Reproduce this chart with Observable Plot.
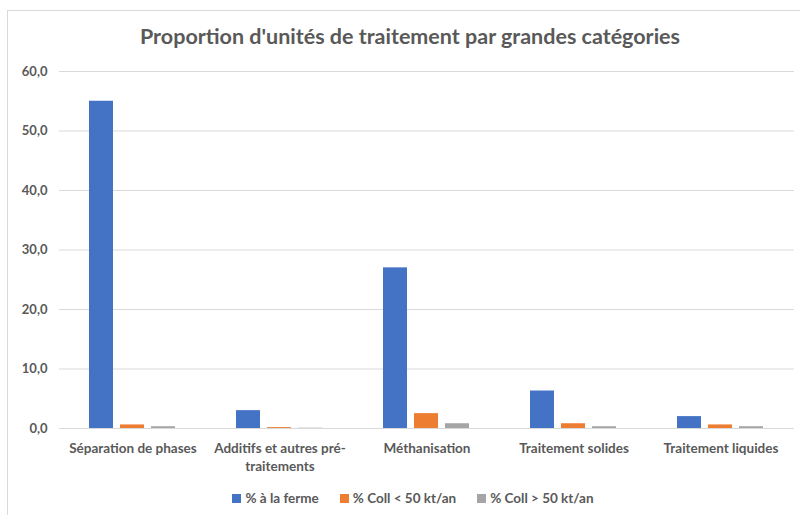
<!DOCTYPE html>
<html>
<head>
<meta charset="utf-8">
<script src="https://cdn.jsdelivr.net/npm/d3@7"></script>
<script src="https://cdn.jsdelivr.net/npm/@observablehq/plot@0.6"></script>
<style>
  body { margin:0; width:800px; height:515px; overflow:hidden; position:relative; background:#fff; font-family: Lato, "Open Sans", sans-serif; }
  #frame { position:absolute; left:7px; top:10px; width:820px; height:520px; border:1px solid #d9d9d9; box-sizing:border-box; }
  #title { position:absolute; left:0; top:23px; width:820px; text-align:center; font-size:21.5px; font-weight:700; color:#595959; }
  #chart { position:absolute; left:0; top:58px; }
  #legend { position:absolute; left:0; top:490px; width:826px; display:flex; justify-content:center; gap:21px; font-size:13.5px; font-weight:700; color:#595959; }
  #legend span.sw { display:inline-block; width:9px; height:9px; margin-right:4px; vertical-align:middle; position:relative; top:-1px; }
</style>
</head>
<body>
<div id="frame"></div>
<div id="title">Proportion d'unités de traitement par grandes catégories</div>
<div id="chart"></div>
<div id="legend"></div>
<script>
const categories = ["Séparation de phases", "Additifs et autres pré-traitements", "Méthanisation", "Traitement solides", "Traitement liquides"];
const categoryLabels = ["Séparation de phases", "Additifs et autres pré-\ntraitements", "Méthanisation", "Traitement solides", "Traitement liquides"];
const series = ["% à la ferme", "% Coll < 50 kt/an", "% Coll > 50 kt/an"];
const colors = ["#4472C4", "#ED7D31", "#A5A5A5"];
const valuesFerme = [55.0, 3.0, 27.0, 6.3, 2.0];
const valuesCollSmall = [0.6, 0.15, 2.5, 0.8, 0.6];
const valuesCollLarge = [0.3, 0.05, 0.8, 0.3, 0.3];
const yTicks = [0, 10, 20, 30, 40, 50, 60];

const seriesValues = [valuesFerme, valuesCollSmall, valuesCollLarge];
const data = [];
categories.forEach((c, i) => {
  series.forEach((s, j) => data.push({category: c, series: s, value: seriesValues[j][i]}));
});

const labelOf = new Map(categories.map((c, i) => [c, categoryLabels[i]]));
const fmt = d => d.toFixed(1).replace(".", ",");

const chart = Plot.plot({
  width: 800,
  height: 420,
  marginLeft: 58,
  marginRight: 6,
  marginTop: 13,
  marginBottom: 50,
  style: { fontFamily: "Lato, 'Open Sans', sans-serif", color: "#595959", background: "transparent" },
  fx: { domain: categories, padding: 0, label: null },
  x: { domain: series, paddingInner: 0.22, paddingOuter: 0.91, axis: null },
  y: { domain: [0, 60], label: null },
  color: { domain: series, range: colors },
  marks: [
    Plot.gridY(yTicks, { stroke: "#d9d9d9", strokeOpacity: 1, strokeWidth: 1 }),
    Plot.axisY(yTicks, { tickSize: 0, tickPadding: 12, tickFormat: fmt, fontSize: 13, fontWeight: 700, fill: "#595959", label: null }),
    Plot.axisFx({ anchor: "bottom", tickSize: 0, tickPadding: 12, tickFormat: c => labelOf.get(c), fontSize: 13.5, lineHeight: 1.33, fontWeight: 700, fill: "#595959", label: null, lineWidth: 100 }),
    Plot.barY(data, { fx: "category", x: "series", y: "value", fill: "series" })
  ]
});
document.getElementById("chart").appendChild(chart);

const legend = document.getElementById("legend");
series.forEach((s, i) => {
  const item = document.createElement("div");
  const sw = document.createElement("span");
  sw.className = "sw";
  sw.style.background = colors[i];
  item.appendChild(sw);
  item.appendChild(document.createTextNode(s));
  legend.appendChild(item);
});
</script>
</body>
</html>
